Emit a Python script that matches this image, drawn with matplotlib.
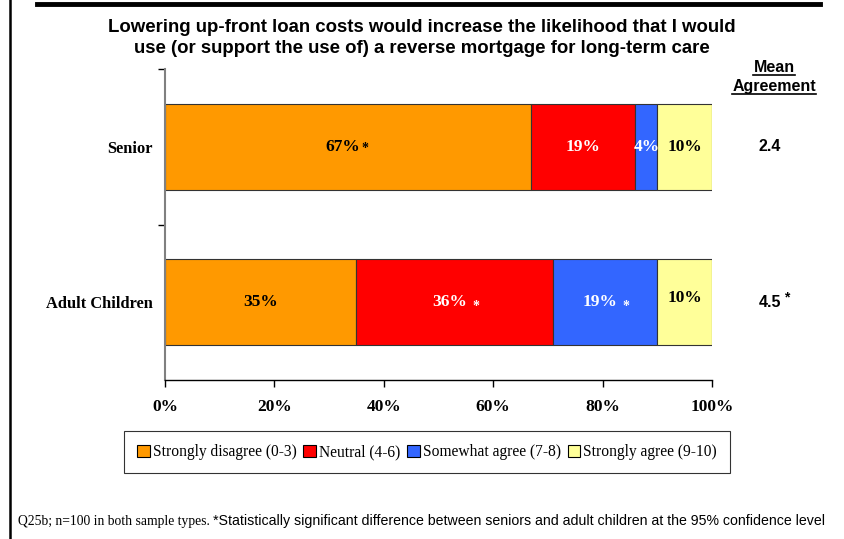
import matplotlib
matplotlib.use("Agg")
import matplotlib.pyplot as plt
from matplotlib.patches import Patch
from matplotlib.lines import Line2D

categories = ["Adult Children", "Senior"]
series_names = ["Strongly disagree (0-3)", "Neutral (4-6)", "Somewhat agree (7-8)", "Strongly agree (9-10)"]
strongly_disagree = [35, 67]
neutral = [36, 19]
somewhat_agree = [19, 4]
strongly_agree = [10, 10]
label_stars = [[False, True, True, False], [True, False, False, False]]
mean_agreement = ["4.5", "2.4"]
mean_stars = [True, False]
x_ticks = [0, 20, 40, 60, 80, 100]
x_ticklabels = ["0%", "20%", "40%", "60%", "80%", "100%"]

colors = ["#FF9900", "#FF0000", "#3366FF", "#FFFF99"]
text_colors = ["black", "white", "white", "black"]

SERIF = "Liberation Serif"
SANS = "Liberation Sans"

fig = plt.figure(figsize=(8.44, 5.39), dpi=100)
ax = fig.add_axes([165/844, 1-380/539, (712-165)/844, (380-69)/539])

series = [strongly_disagree, neutral, somewhat_agree, strongly_agree]
ypos = list(range(len(categories)))
left = [0]*len(categories)
bar_h = 0.553
for s, (vals, col) in enumerate(zip(series, colors)):
    ax.barh(ypos, vals, left=left, height=bar_h, color=col, edgecolor="#333333", linewidth=0.8, zorder=2)
    left = [l + v for l, v in zip(left, vals)]

ax.set_xlim(0, 100)
ax.set_ylim(-0.5, 1.5)
ax.set_xticks(x_ticks)
ax.set_xticklabels(x_ticklabels, fontfamily=SERIF, fontweight="bold", fontsize=12.5)
ax.set_yticks(ypos)
ax.set_yticklabels(categories, fontfamily=SERIF, fontweight="bold", fontsize=11.8)
ax.tick_params(axis="y", length=0, pad=9)
ax.set_yticks([0.5, 1.5], minor=True)
ax.tick_params(axis="y", which="minor", length=5, width=1, color="black", direction="out")
ax.tick_params(axis="x", length=5, width=1, direction="out", pad=9)
for sp in ["top", "right"]:
    ax.spines[sp].set_visible(False)
ax.spines["left"].set_color("#808080")
ax.spines["left"].set_linewidth(1.5)
ax.spines["bottom"].set_color("black")
ax.spines["bottom"].set_linewidth(1.0)

fig.canvas.draw()
renderer = fig.canvas.get_renderer()

# segment labels
for i in ypos:
    cum = 0
    for s, vals in enumerate(series):
        v = vals[i]
        c = cum + v / 2
        cum += v
        star = label_stars[i][s]
        dx = -4 if star else 0
        dy = 3 if (i == 0 and s == 3) else 0
        t = ax.annotate(f"{v}%", xy=(c, i), xytext=(dx, dy), textcoords="offset points",
                        ha="center", va="center", fontfamily=SERIF, fontweight="bold",
                        fontsize=12.5, color=text_colors[s], zorder=5)
        if star:
            bb = t.get_window_extent(renderer)
            xd, _ = ax.transData.inverted().transform((bb.x1, 0))
            gap, sy = (1, -1) if i == 1 else (4, -3)
            ax.annotate("*", xy=(xd, i), xytext=(gap, sy), textcoords="offset points",
                        ha="left", va="center", fontfamily=SERIF, fontweight="bold",
                        fontsize=10, color=text_colors[s], zorder=5)

# mean agreement column
for i in ypos:
    _, ydisp = ax.transData.transform((0, i))
    fy = fig.transFigure.inverted().transform((0, ydisp))[1]
    t = fig.text(770/844, fy, mean_agreement[i], fontfamily=SANS, fontweight="bold",
                 fontsize=11.5, ha="center", va="center")
    if mean_stars[i]:
        bb = t.get_window_extent(renderer)
        fx = fig.transFigure.inverted().transform((bb.x1, 0))[0]
        fig.text(fx + 3/844, fy + 5/539, "*", fontfamily=SANS, fontweight="bold", fontsize=10,
                 ha="left", va="center")

for txt, y in [("Mean", 68), ("Agreement", 87)]:
    t = fig.text(774/844, 1 - y/539, txt, fontfamily=SANS, fontweight="bold", fontsize=11.5,
                 ha="center", va="center")
    bb = t.get_window_extent(renderer)
    fig.add_artist(Line2D([bb.x0/844, bb.x1/844], [(bb.y0 + 1.0)/539]*2, transform=fig.transFigure,
                          color="black", linewidth=1.2))

# title
fig.text(422/844, 1 - 38/539,
         "Lowering up-front loan costs would increase the likelihood that I would\nuse (or support the use of) a reverse mortgage for long-term care",
         fontfamily=SANS, fontweight="bold", fontsize=13.4, ha="center", va="center", linespacing=1.38)

# legend
handles = [Patch(facecolor=c, edgecolor="black", linewidth=0.8) for c in colors]
leg = fig.legend(handles, series_names, loc="center", bbox_to_anchor=(427/844, 1 - 452/539), ncol=4,
                 prop={"family": SERIF, "size": 11.2}, frameon=True, fancybox=False, edgecolor="black",
                 handlelength=0.8, handleheight=0.8, handletextpad=0.2, columnspacing=0.45,
                 borderpad=0.85, borderaxespad=0)
leg.get_frame().set_linewidth(0.8)

# footnote
t1 = fig.text(18/844, 1 - 521/539, "Q25b; n=100 in both sample types. ", fontfamily=SERIF, fontsize=9.8,
              ha="left", va="center")
bb = t1.get_window_extent(renderer)
fig.text(bb.x1/844, 1 - 521/539, "*Statistically significant difference between seniors and adult children at the 95% confidence level",
         fontfamily=SANS, fontsize=10.2, ha="left", va="center")

# page frame lines
fig.add_artist(Line2D([10/844, 10/844], [0, 1], transform=fig.transFigure, color="black", linewidth=1.8))
fig.add_artist(Line2D([37/844, 820/844], [1 - 4/539]*2, transform=fig.transFigure, color="black", linewidth=3.5))

fig.savefig("out.png", dpi=100)
